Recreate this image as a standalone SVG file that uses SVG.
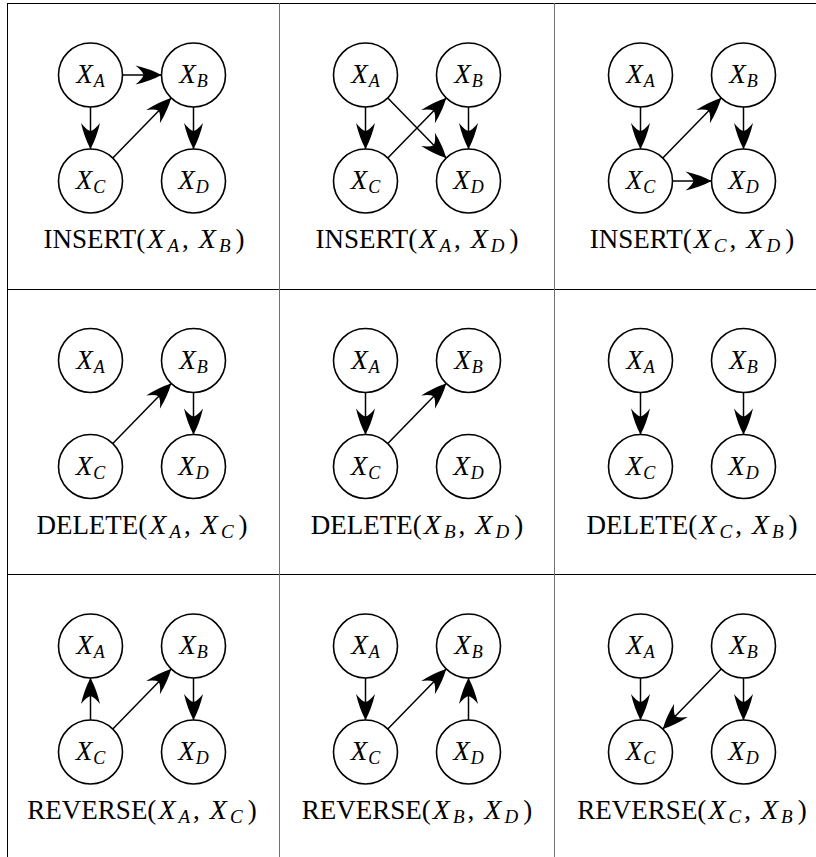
<svg xmlns="http://www.w3.org/2000/svg" width="816" height="857" viewBox="0 0 816 857">
<style>
.grid{stroke:#000;stroke-width:1;fill:none}
.gv{stroke:#707070;stroke-width:1;fill:none}
.nd circle{fill:#fff;stroke:#000;stroke-width:1.6}
.nt{font-family:"Liberation Serif",serif;font-size:27px;text-anchor:middle;fill:#000}
.lbl{font-family:"Liberation Serif",serif;font-size:27px;text-anchor:middle;fill:#000}
.i{font-style:italic}
.s{font-style:italic;font-size:18px}
.lbl .i{font-size:28px}
.lbl .s{font-size:19px}
.e{stroke:#000;stroke-width:1.5;fill:none;marker-end:url(#ah)}
</style>
<defs>
<marker id="ah" viewBox="-28 -11 29 22" refX="0" refY="0" markerWidth="29" markerHeight="22" markerUnits="userSpaceOnUse" orient="auto">
<path d="M0,0 Q-11,-6 -26,-9.5 Q-19,-4 -18,0 Q-19,4 -26,9.5 Q-11,6 0,0Z" fill="#000"/>
</marker>
</defs>
<rect width="816" height="857" fill="#fff"/>
<g id="grid">
<line class="grid" x1="7" y1="3.5" x2="816" y2="3.5"/>
<line class="grid" x1="7" y1="289.5" x2="816" y2="289.5"/>
<line class="grid" x1="7" y1="574.5" x2="816" y2="574.5"/>
<line class="grid" x1="7.5" y1="3" x2="7.5" y2="857"/>
<line class="gv" x1="279.5" y1="3" x2="279.5" y2="857"/>
<line class="gv" x1="554.5" y1="3" x2="554.5" y2="857"/>
</g>
<g id="connectors">
<line class="e" x1="122.5" y1="75" x2="161.5" y2="75"/>
<line class="e" x1="90.5" y1="107" x2="90.5" y2="149"/>
<line class="e" x1="112.8" y1="158.05" x2="171.2" y2="97.95"/>
<line class="e" x1="193.5" y1="107" x2="193.5" y2="149"/>
<line class="e" x1="365.5" y1="107" x2="365.5" y2="149"/>
<line class="e" x1="387.8" y1="97.95" x2="446.2" y2="158.05"/>
<line class="e" x1="387.8" y1="158.05" x2="446.2" y2="97.95"/>
<line class="e" x1="468.5" y1="107" x2="468.5" y2="149"/>
<line class="e" x1="640.5" y1="107" x2="640.5" y2="149"/>
<line class="e" x1="662.8" y1="158.05" x2="721.2" y2="97.95"/>
<line class="e" x1="743.5" y1="107" x2="743.5" y2="149"/>
<line class="e" x1="672.5" y1="181" x2="711.5" y2="181"/>
<line class="e" x1="112.8" y1="443.55" x2="171.2" y2="383.45"/>
<line class="e" x1="193.5" y1="392.5" x2="193.5" y2="434.5"/>
<line class="e" x1="365.5" y1="392.5" x2="365.5" y2="434.5"/>
<line class="e" x1="387.8" y1="443.55" x2="446.2" y2="383.45"/>
<line class="e" x1="640.5" y1="392.5" x2="640.5" y2="434.5"/>
<line class="e" x1="743.5" y1="392.5" x2="743.5" y2="434.5"/>
<line class="e" x1="90.5" y1="720" x2="90.5" y2="678"/>
<line class="e" x1="112.8" y1="729.05" x2="171.2" y2="668.95"/>
<line class="e" x1="193.5" y1="678" x2="193.5" y2="720"/>
<line class="e" x1="365.5" y1="678" x2="365.5" y2="720"/>
<line class="e" x1="387.8" y1="729.05" x2="446.2" y2="668.95"/>
<line class="e" x1="468.5" y1="720" x2="468.5" y2="678"/>
<line class="e" x1="640.5" y1="678" x2="640.5" y2="720"/>
<line class="e" x1="721.2" y1="668.95" x2="662.8" y2="729.05"/>
<line class="e" x1="743.5" y1="678" x2="743.5" y2="720"/>
</g>
<g id="r1c1-A" class="nd"><circle cx="90.5" cy="75" r="32"/><text class="nt" x="90.5" y="83"><tspan class="i">X</tspan><tspan class="s" dx="1" dy="4">A</tspan></text></g>
<g id="r1c1-B" class="nd"><circle cx="193.5" cy="75" r="32"/><text class="nt" x="193.5" y="83"><tspan class="i">X</tspan><tspan class="s" dx="1" dy="4">B</tspan></text></g>
<g id="r1c1-C" class="nd"><circle cx="90.5" cy="181" r="32"/><text class="nt" x="90.5" y="189"><tspan class="i">X</tspan><tspan class="s" dx="1" dy="4">C</tspan></text></g>
<g id="r1c1-D" class="nd"><circle cx="193.5" cy="181" r="32"/><text class="nt" x="193.5" y="189"><tspan class="i">X</tspan><tspan class="s" dx="1" dy="4">D</tspan></text></g>
<g id="r1c2-A" class="nd"><circle cx="365.5" cy="75" r="32"/><text class="nt" x="365.5" y="83"><tspan class="i">X</tspan><tspan class="s" dx="1" dy="4">A</tspan></text></g>
<g id="r1c2-B" class="nd"><circle cx="468.5" cy="75" r="32"/><text class="nt" x="468.5" y="83"><tspan class="i">X</tspan><tspan class="s" dx="1" dy="4">B</tspan></text></g>
<g id="r1c2-C" class="nd"><circle cx="365.5" cy="181" r="32"/><text class="nt" x="365.5" y="189"><tspan class="i">X</tspan><tspan class="s" dx="1" dy="4">C</tspan></text></g>
<g id="r1c2-D" class="nd"><circle cx="468.5" cy="181" r="32"/><text class="nt" x="468.5" y="189"><tspan class="i">X</tspan><tspan class="s" dx="1" dy="4">D</tspan></text></g>
<g id="r1c3-A" class="nd"><circle cx="640.5" cy="75" r="32"/><text class="nt" x="640.5" y="83"><tspan class="i">X</tspan><tspan class="s" dx="1" dy="4">A</tspan></text></g>
<g id="r1c3-B" class="nd"><circle cx="743.5" cy="75" r="32"/><text class="nt" x="743.5" y="83"><tspan class="i">X</tspan><tspan class="s" dx="1" dy="4">B</tspan></text></g>
<g id="r1c3-C" class="nd"><circle cx="640.5" cy="181" r="32"/><text class="nt" x="640.5" y="189"><tspan class="i">X</tspan><tspan class="s" dx="1" dy="4">C</tspan></text></g>
<g id="r1c3-D" class="nd"><circle cx="743.5" cy="181" r="32"/><text class="nt" x="743.5" y="189"><tspan class="i">X</tspan><tspan class="s" dx="1" dy="4">D</tspan></text></g>
<g id="r2c1-A" class="nd"><circle cx="90.5" cy="360.5" r="32"/><text class="nt" x="90.5" y="368.5"><tspan class="i">X</tspan><tspan class="s" dx="1" dy="4">A</tspan></text></g>
<g id="r2c1-B" class="nd"><circle cx="193.5" cy="360.5" r="32"/><text class="nt" x="193.5" y="368.5"><tspan class="i">X</tspan><tspan class="s" dx="1" dy="4">B</tspan></text></g>
<g id="r2c1-C" class="nd"><circle cx="90.5" cy="466.5" r="32"/><text class="nt" x="90.5" y="474.5"><tspan class="i">X</tspan><tspan class="s" dx="1" dy="4">C</tspan></text></g>
<g id="r2c1-D" class="nd"><circle cx="193.5" cy="466.5" r="32"/><text class="nt" x="193.5" y="474.5"><tspan class="i">X</tspan><tspan class="s" dx="1" dy="4">D</tspan></text></g>
<g id="r2c2-A" class="nd"><circle cx="365.5" cy="360.5" r="32"/><text class="nt" x="365.5" y="368.5"><tspan class="i">X</tspan><tspan class="s" dx="1" dy="4">A</tspan></text></g>
<g id="r2c2-B" class="nd"><circle cx="468.5" cy="360.5" r="32"/><text class="nt" x="468.5" y="368.5"><tspan class="i">X</tspan><tspan class="s" dx="1" dy="4">B</tspan></text></g>
<g id="r2c2-C" class="nd"><circle cx="365.5" cy="466.5" r="32"/><text class="nt" x="365.5" y="474.5"><tspan class="i">X</tspan><tspan class="s" dx="1" dy="4">C</tspan></text></g>
<g id="r2c2-D" class="nd"><circle cx="468.5" cy="466.5" r="32"/><text class="nt" x="468.5" y="474.5"><tspan class="i">X</tspan><tspan class="s" dx="1" dy="4">D</tspan></text></g>
<g id="r2c3-A" class="nd"><circle cx="640.5" cy="360.5" r="32"/><text class="nt" x="640.5" y="368.5"><tspan class="i">X</tspan><tspan class="s" dx="1" dy="4">A</tspan></text></g>
<g id="r2c3-B" class="nd"><circle cx="743.5" cy="360.5" r="32"/><text class="nt" x="743.5" y="368.5"><tspan class="i">X</tspan><tspan class="s" dx="1" dy="4">B</tspan></text></g>
<g id="r2c3-C" class="nd"><circle cx="640.5" cy="466.5" r="32"/><text class="nt" x="640.5" y="474.5"><tspan class="i">X</tspan><tspan class="s" dx="1" dy="4">C</tspan></text></g>
<g id="r2c3-D" class="nd"><circle cx="743.5" cy="466.5" r="32"/><text class="nt" x="743.5" y="474.5"><tspan class="i">X</tspan><tspan class="s" dx="1" dy="4">D</tspan></text></g>
<g id="r3c1-A" class="nd"><circle cx="90.5" cy="646" r="32"/><text class="nt" x="90.5" y="654"><tspan class="i">X</tspan><tspan class="s" dx="1" dy="4">A</tspan></text></g>
<g id="r3c1-B" class="nd"><circle cx="193.5" cy="646" r="32"/><text class="nt" x="193.5" y="654"><tspan class="i">X</tspan><tspan class="s" dx="1" dy="4">B</tspan></text></g>
<g id="r3c1-C" class="nd"><circle cx="90.5" cy="752" r="32"/><text class="nt" x="90.5" y="760"><tspan class="i">X</tspan><tspan class="s" dx="1" dy="4">C</tspan></text></g>
<g id="r3c1-D" class="nd"><circle cx="193.5" cy="752" r="32"/><text class="nt" x="193.5" y="760"><tspan class="i">X</tspan><tspan class="s" dx="1" dy="4">D</tspan></text></g>
<g id="r3c2-A" class="nd"><circle cx="365.5" cy="646" r="32"/><text class="nt" x="365.5" y="654"><tspan class="i">X</tspan><tspan class="s" dx="1" dy="4">A</tspan></text></g>
<g id="r3c2-B" class="nd"><circle cx="468.5" cy="646" r="32"/><text class="nt" x="468.5" y="654"><tspan class="i">X</tspan><tspan class="s" dx="1" dy="4">B</tspan></text></g>
<g id="r3c2-C" class="nd"><circle cx="365.5" cy="752" r="32"/><text class="nt" x="365.5" y="760"><tspan class="i">X</tspan><tspan class="s" dx="1" dy="4">C</tspan></text></g>
<g id="r3c2-D" class="nd"><circle cx="468.5" cy="752" r="32"/><text class="nt" x="468.5" y="760"><tspan class="i">X</tspan><tspan class="s" dx="1" dy="4">D</tspan></text></g>
<g id="r3c3-A" class="nd"><circle cx="640.5" cy="646" r="32"/><text class="nt" x="640.5" y="654"><tspan class="i">X</tspan><tspan class="s" dx="1" dy="4">A</tspan></text></g>
<g id="r3c3-B" class="nd"><circle cx="743.5" cy="646" r="32"/><text class="nt" x="743.5" y="654"><tspan class="i">X</tspan><tspan class="s" dx="1" dy="4">B</tspan></text></g>
<g id="r3c3-C" class="nd"><circle cx="640.5" cy="752" r="32"/><text class="nt" x="640.5" y="760"><tspan class="i">X</tspan><tspan class="s" dx="1" dy="4">C</tspan></text></g>
<g id="r3c3-D" class="nd"><circle cx="743.5" cy="752" r="32"/><text class="nt" x="743.5" y="760"><tspan class="i">X</tspan><tspan class="s" dx="1" dy="4">D</tspan></text></g>
<g id="labels">
<text class="lbl" x="144" y="248">INSERT(<tspan class="i" dx="2">X</tspan><tspan class="s" dx="3" dy="4">A</tspan><tspan dx="3" dy="-4">,</tspan><tspan class="i" dx="10">X</tspan><tspan class="s" dx="3" dy="4">B</tspan><tspan dx="5" dy="-4">)</tspan></text>
<text class="lbl" x="417" y="248">INSERT(<tspan class="i" dx="2">X</tspan><tspan class="s" dx="3" dy="4">A</tspan><tspan dx="3" dy="-4">,</tspan><tspan class="i" dx="10">X</tspan><tspan class="s" dx="3" dy="4">D</tspan><tspan dx="5" dy="-4">)</tspan></text>
<text class="lbl" x="692" y="248">INSERT(<tspan class="i" dx="2">X</tspan><tspan class="s" dx="3" dy="4">C</tspan><tspan dx="3" dy="-4">,</tspan><tspan class="i" dx="10">X</tspan><tspan class="s" dx="3" dy="4">D</tspan><tspan dx="5" dy="-4">)</tspan></text>
<text class="lbl" x="142" y="533.5">DELETE(<tspan class="i" dx="2">X</tspan><tspan class="s" dx="3" dy="4">A</tspan><tspan dx="3" dy="-4">,</tspan><tspan class="i" dx="10">X</tspan><tspan class="s" dx="3" dy="4">C</tspan><tspan dx="5" dy="-4">)</tspan></text>
<text class="lbl" x="417" y="533.5">DELETE(<tspan class="i" dx="2">X</tspan><tspan class="s" dx="3" dy="4">B</tspan><tspan dx="3" dy="-4">,</tspan><tspan class="i" dx="10">X</tspan><tspan class="s" dx="3" dy="4">D</tspan><tspan dx="5" dy="-4">)</tspan></text>
<text class="lbl" x="692" y="533.5">DELETE(<tspan class="i" dx="2">X</tspan><tspan class="s" dx="3" dy="4">C</tspan><tspan dx="3" dy="-4">,</tspan><tspan class="i" dx="10">X</tspan><tspan class="s" dx="3" dy="4">B</tspan><tspan dx="5" dy="-4">)</tspan></text>
<text class="lbl" x="142" y="819">REVERSE(<tspan class="i" dx="2">X</tspan><tspan class="s" dx="3" dy="4">A</tspan><tspan dx="3" dy="-4">,</tspan><tspan class="i" dx="10">X</tspan><tspan class="s" dx="3" dy="4">C</tspan><tspan dx="5" dy="-4">)</tspan></text>
<text class="lbl" x="417" y="819">REVERSE(<tspan class="i" dx="2">X</tspan><tspan class="s" dx="3" dy="4">B</tspan><tspan dx="3" dy="-4">,</tspan><tspan class="i" dx="10">X</tspan><tspan class="s" dx="3" dy="4">D</tspan><tspan dx="5" dy="-4">)</tspan></text>
<text class="lbl" x="692" y="819">REVERSE(<tspan class="i" dx="2">X</tspan><tspan class="s" dx="3" dy="4">C</tspan><tspan dx="3" dy="-4">,</tspan><tspan class="i" dx="10">X</tspan><tspan class="s" dx="3" dy="4">B</tspan><tspan dx="5" dy="-4">)</tspan></text>
</g>
</svg>
